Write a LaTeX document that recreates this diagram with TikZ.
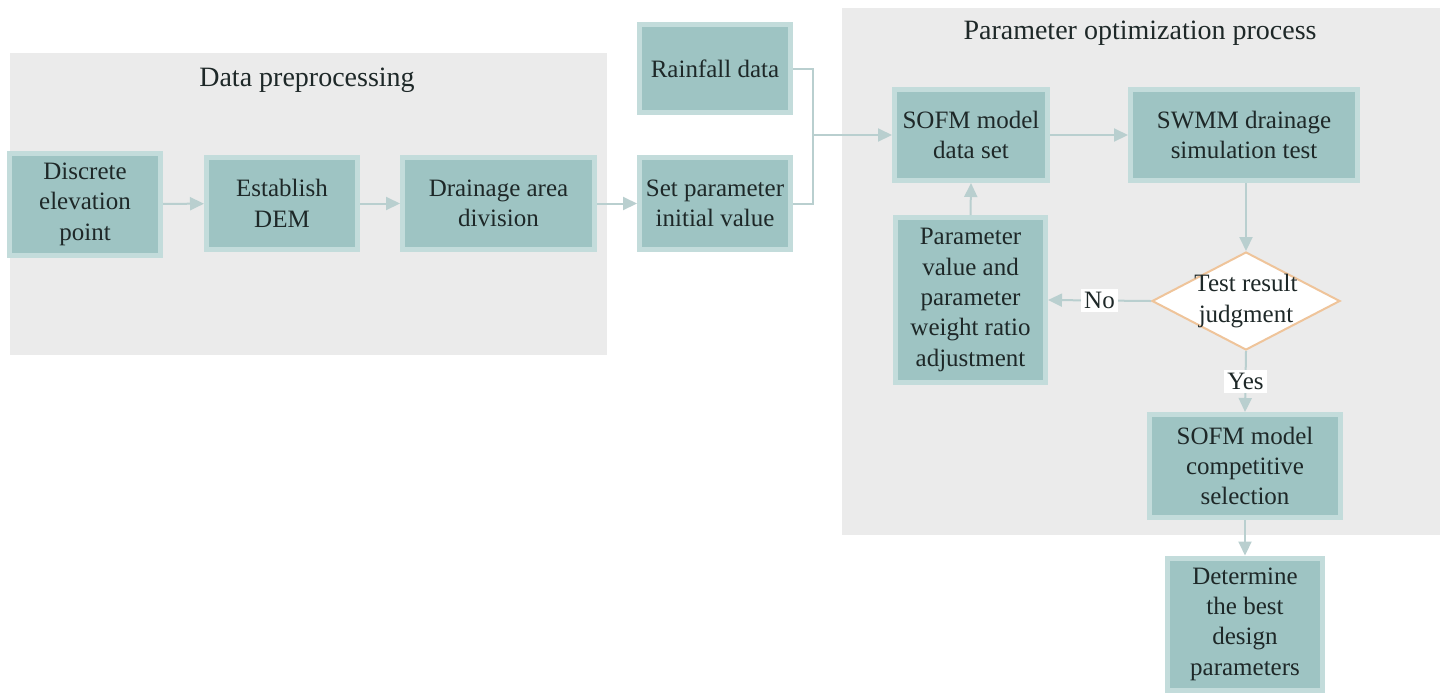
\documentclass[tikz,border=0pt]{standalone}
\usepackage{fontspec}
\setmainfont{LiberationSerif}[Extension=.ttf,UprightFont=*-Regular,BoldFont=*-Bold,ItalicFont=*-Italic]
\usetikzlibrary{arrows.meta,shapes.geometric}
\definecolor{bgray}{HTML}{EBEBEB}
\definecolor{boxfill}{HTML}{9EC4C3}
\definecolor{boxedge}{HTML}{C3DCDB}
\definecolor{conn}{HTML}{B9CFCF}
\definecolor{txt}{HTML}{1E2828}
\definecolor{decedge}{HTML}{EFC49A}
\begin{document}
\begin{tikzpicture}[x=0.5pt,y=-0.5pt,
  box/.style={rectangle, fill=boxfill, draw=boxedge, line width=2.5pt, align=center,
    text=txt, font=\rmfamily\fontsize{12.5}{15.2}\selectfont, inner sep=2pt},
  ttl/.style={text=txt, font=\rmfamily\fontsize{14}{16}\selectfont},
  conn/.style={draw=conn, line width=1pt, -{Triangle[length=7pt,width=6.5pt]}},
  plain/.style={draw=conn, line width=1pt},
  lab/.style={fill=white, text=txt, inner sep=1.5pt, font=\rmfamily\fontsize{12.5}{15}\selectfont}]
\useasboundingbox (0,0) rectangle (1440,692);
\fill[white] (0,0) rectangle (1440,692);
% group backgrounds
\fill[bgray] (10,53) rectangle (607,355);
\fill[bgray] (842,8) rectangle (1440,535);
\node[ttl] (t1) at (307,80) {Data preprocessing};
\node[ttl] (t2) at (1140,33) {Parameter optimization process};
% boxes
\node[box, minimum width=75.5pt, minimum height=51pt] (disc) at (85,204) {Discrete\\elevation\\point};
\node[box, minimum width=75.5pt, minimum height=46pt] (dem) at (282,203.5) {Establish\\DEM};
\node[box, minimum width=96pt, minimum height=46pt] (drain) at (498.5,203.5) {Drainage area\\division};
\node[box, minimum width=75.5pt, minimum height=46pt] (setp) at (715,203.5) {Set parameter\\initial value};
\node[box, minimum width=75.5pt, minimum height=44pt] (rain) at (715,68.5) {Rainfall data};
\node[box, minimum width=76.5pt, minimum height=45.5pt] (sofm) at (971,135) {SOFM model\\data set};
\node[box, minimum width=113.5pt, minimum height=45.5pt] (swmm) at (1244,135) {SWMM drainage\\simulation test};
\node[box, minimum width=75pt, minimum height=82.5pt] (adj) at (970.5,300) {Parameter\\value and\\parameter\\weight ratio\\adjustment};
\node[diamond, draw=decedge, fill=white, line width=1pt, inner sep=0pt, minimum width=94pt, minimum height=49pt] (dec) at (1246,301) {};
\node[text=txt, align=center, font=\rmfamily\fontsize{12.5}{15.2}\selectfont] (dectext) at (1246,301) {Test result\\judgment};
\node[box, minimum width=95.5pt, minimum height=51.5pt] (comp) at (1245,466) {SOFM model\\competitive\\selection};
\node[box, minimum width=77.5pt, minimum height=66pt] (best) at (1245,624) {Determine\\the best\\design\\parameters};
% connectors
\coordinate (j) at (813,135);
\draw[conn] (disc) -- (dem);
\draw[conn] (dem) -- (drain);
\draw[conn] (drain) -- (setp);
\draw[plain] (rain.east) -| (j);
\draw[plain] (setp.east) -| (j);
\draw[conn] (j) -- (sofm.west);
\draw[conn] (sofm) -- (swmm);
\draw[conn] (swmm.south -| dec.north) -- (dec.north);
\draw[conn] (dec.west) -- node[lab] (no) {No} (adj.east);
\draw[conn] (adj.north) -- (sofm.south);
\draw[conn] (dec.south) -- node[lab] (yes) {Yes} (comp.north);
\draw[conn] (comp.south) -- (best.north);
\end{tikzpicture}
\end{document}
